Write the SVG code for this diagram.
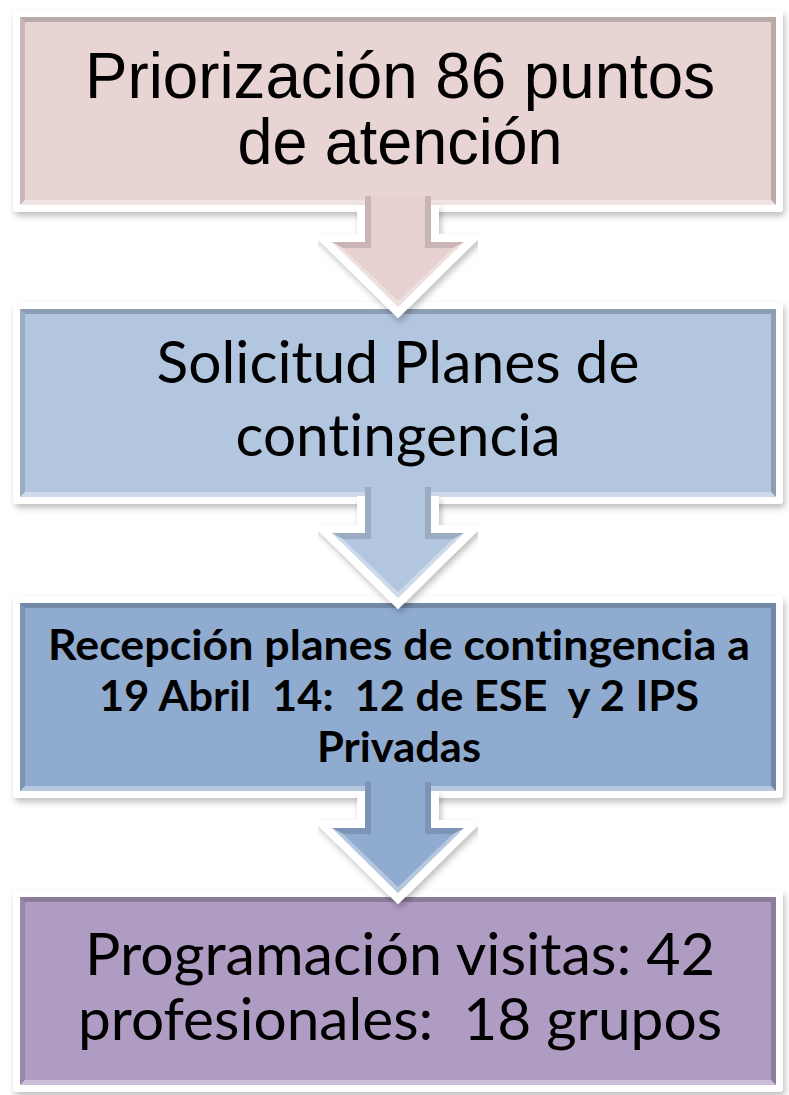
<svg xmlns="http://www.w3.org/2000/svg" width="789" height="1095" viewBox="0 0 789 1095">
  <style>
    .frame { fill: #ffffff; }
    .dark { fill: #000000; fill-opacity: 0.13; }
    .darker { fill: #000000; fill-opacity: 0.2; }
    .light { fill: #ffffff; fill-opacity: 0.35; }
    text { font-variant-ligatures: none; font-feature-settings: "liga" 0, "clig" 0; }
    .t1 { font-family: "Liberation Sans", Arial, sans-serif; font-size: 64px; fill: #000000; text-anchor: middle; }
    .t2 { font-family: Lato, "Open Sans", sans-serif; font-size: 59px; fill: #000000; text-anchor: middle; }
    .t3 { font-family: Lato, "Open Sans", sans-serif; font-weight: bold; font-size: 42px; fill: #000000; text-anchor: middle; }
    .aout { fill: none; stroke: #ffffff; stroke-width: 16; stroke-linejoin: miter; stroke-miterlimit: 4; }
  </style>
  <defs>
    <filter id="sh" x="-10%" y="-10%" width="120%" height="130%">
      <feDropShadow dx="2" dy="4" stdDeviation="3" flood-color="#000000" flood-opacity="0.25"/>
    </filter>
  </defs>
  <rect width="789" height="1095" fill="#ffffff"/>

  <!-- Node 1 -->
  <g id="node1" transform="translate(0,10)">
    <rect class="frame" x="13" y="0" width="770" height="202" rx="4" filter="url(#sh)"/>
    <rect x="20" y="7" width="756" height="188" fill="#e9d4d4"/>
    <polygon class="darker" points="20,7 776,7 771,12 25,12"/>
    <polygon class="dark" points="20,7 25,12 25,190 20,195"/>
    <polygon class="darker" points="776,7 776,195 771,190 771,12"/>
    <polygon class="light" points="20,195 25,190 771,190 776,195"/>
    <text class="t1" x="400" y="88" textLength="630" lengthAdjust="spacingAndGlyphs">Priorización 86 puntos</text>
    <text class="t1" x="400" y="154" textLength="325" lengthAdjust="spacingAndGlyphs">de atención</text>
  </g>

  <!-- Node 2 -->
  <g id="node2" transform="translate(0,302)">
    <rect class="frame" x="13" y="0" width="770" height="202" rx="4" filter="url(#sh)"/>
    <rect x="20" y="7" width="756" height="188" fill="#b2c6df"/>
    <polygon class="darker" points="20,7 776,7 771,12 25,12"/>
    <polygon class="dark" points="20,7 25,12 25,190 20,195"/>
    <polygon class="darker" points="776,7 776,195 771,190 771,12"/>
    <polygon class="light" points="20,195 25,190 771,190 776,195"/>
    <text class="t2" x="398" y="81" textLength="483" lengthAdjust="spacingAndGlyphs">Solicitud Planes de</text>
    <text class="t2" x="398" y="154" textLength="325" lengthAdjust="spacingAndGlyphs">contingencia</text>
  </g>

  <!-- Node 3 -->
  <g id="node3" transform="translate(0,596)">
    <rect class="frame" x="13" y="0" width="770" height="202" rx="4" filter="url(#sh)"/>
    <rect x="20" y="7" width="756" height="188" fill="#8fabd0"/>
    <polygon class="darker" points="20,7 776,7 771,12 25,12"/>
    <polygon class="dark" points="20,7 25,12 25,190 20,195"/>
    <polygon class="darker" points="776,7 776,195 771,190 771,12"/>
    <polygon class="light" points="20,195 25,190 771,190 776,195"/>
    <text class="t3" x="399" y="64" textLength="702" lengthAdjust="spacingAndGlyphs">Recepción planes de contingencia a</text>
    <text class="t3" x="399" y="115" xml:space="preserve" textLength="600" lengthAdjust="spacingAndGlyphs">19 Abril  14:  12 de ESE  y 2 IPS</text>
    <text class="t3" x="399" y="166" textLength="164" lengthAdjust="spacingAndGlyphs">Privadas</text>
  </g>

  <!-- Node 4 -->
  <g id="node4" transform="translate(0,890)">
    <rect class="frame" x="13" y="0" width="770" height="202" rx="4" filter="url(#sh)"/>
    <rect x="20" y="7" width="756" height="188" fill="#ae9cc3"/>
    <polygon class="darker" points="20,7 776,7 771,12 25,12"/>
    <polygon class="dark" points="20,7 25,12 25,190 20,195"/>
    <polygon class="darker" points="776,7 776,195 771,190 771,12"/>
    <polygon class="light" points="20,195 25,190 771,190 776,195"/>
    <text class="t2" x="400" y="85" textLength="630" lengthAdjust="spacingAndGlyphs">Programación visitas: 42</text>
    <text class="t2" x="400" y="150" xml:space="preserve" textLength="644" lengthAdjust="spacingAndGlyphs">profesionales:  18 grupos</text>
  </g>

  <!-- Connectors -->
  <g id="connectors">
    <g id="arrow1" transform="translate(0,212)">
      <path class="aout" d="M365,-7 V30 H332 L398,95 L464,30 H431 V-7" filter="url(#sh)"/>
      <path d="M365,-16 H431 V30 H464 L398,95 L332,30 H365 Z" fill="#e7d0d0"/>
      <polygon class="dark" points="365,-16 371,-16 371,24 365,30"/>
      <polygon class="dark" points="431,-16 425,-16 425,24 431,30"/>
      <polygon class="dark" points="332,30 365,30 371,24 371,36 343,36"/>
      <polygon class="dark" points="464,30 431,30 425,24 425,36 453,36"/>
      <polygon class="light" points="332,30 343,36 398,89 398,95"/>
      <polygon class="light" points="464,30 453,36 398,89 398,95"/>
    </g>
    <g id="arrow2" transform="translate(0,503)">
      <path class="aout" d="M365,-7 V30 H332 L398,95 L464,30 H431 V-7" filter="url(#sh)"/>
      <path d="M365,-16 H431 V30 H464 L398,95 L332,30 H365 Z" fill="#b3c6df"/>
      <polygon class="dark" points="365,-16 371,-16 371,24 365,30"/>
      <polygon class="dark" points="431,-16 425,-16 425,24 431,30"/>
      <polygon class="dark" points="332,30 365,30 371,24 371,36 343,36"/>
      <polygon class="dark" points="464,30 431,30 425,24 425,36 453,36"/>
      <polygon class="light" points="332,30 343,36 398,89 398,95"/>
      <polygon class="light" points="464,30 453,36 398,89 398,95"/>
    </g>
    <g id="arrow3" transform="translate(0,798)">
      <path class="aout" d="M365,-7 V30 H332 L398,95 L464,30 H431 V-7" filter="url(#sh)"/>
      <path d="M365,-16 H431 V30 H464 L398,95 L332,30 H365 Z" fill="#8fabd0"/>
      <polygon class="dark" points="365,-16 371,-16 371,24 365,30"/>
      <polygon class="dark" points="431,-16 425,-16 425,24 431,30"/>
      <polygon class="dark" points="332,30 365,30 371,24 371,36 343,36"/>
      <polygon class="dark" points="464,30 431,30 425,24 425,36 453,36"/>
      <polygon class="light" points="332,30 343,36 398,89 398,95"/>
      <polygon class="light" points="464,30 453,36 398,89 398,95"/>
    </g>
  </g>
</svg>
